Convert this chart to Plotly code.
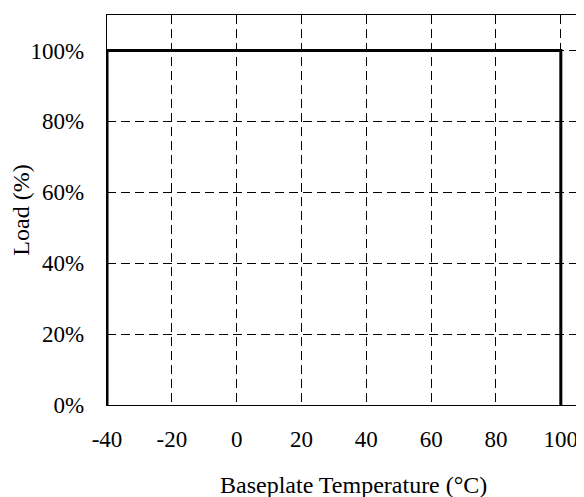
import plotly.graph_objects as go

# Data
temp_c = [-40, -40, 100, 100]
load_pct = [0, 100, 100, 0]
x_tick_vals = [-40, -20, 0, 20, 40, 60, 80, 100]
x_tick_text = ["-40", "-20", "0", "20", "40", "60", "80", "100"]
y_tick_vals = [0, 20, 40, 60, 80, 100]
y_tick_text = ["0%", "20%", "40%", "60%", "80%", "100%"]
x_title = "Baseplate Temperature (°C)"
y_title = "Load (%)"

FONT = "Liberation Serif, Times New Roman, serif"

fig = go.Figure()
fig.add_trace(go.Scatter(
    x=temp_c, y=load_pct, mode="lines",
    line=dict(color="black", width=3),
    cliponaxis=False, showlegend=False, hoverinfo="skip",
))

# page body has an 8px default margin, so the figure is offset by 8px
fig.update_layout(
    width=576, height=489,
    margin=dict(l=98.8, r=0, t=6.7, b=91.7, pad=0),
    paper_bgcolor="white", plot_bgcolor="white",
    font=dict(family=FONT, size=23, color="black"),
    showlegend=False,
)
fig.update_xaxes(
    range=[-40, 107.15],
    tickvals=x_tick_vals, ticktext=x_tick_text,
    showgrid=True, gridcolor="black", gridwidth=1, griddash="9px,5px",
    zeroline=False,
    showline=True, linecolor="black", linewidth=1.3, mirror=True,
    ticks="", ticklabelstandoff=13,
    tickfont=dict(family=FONT, size=23),
)
fig.update_yaxes(
    range=[0, 110],
    tickvals=y_tick_vals, ticktext=y_tick_text,
    showgrid=True, gridcolor="black", gridwidth=1, griddash="9px,5px",
    zeroline=False,
    showline=True, linecolor="black", linewidth=1.3, mirror=False,
    ticks="", ticklabelstandoff=17,
    tickfont=dict(family=FONT, size=23),
    title=dict(text=y_title, font=dict(family=FONT, size=24), standoff=7),
)
fig.add_annotation(
    text=x_title, xref="paper", yref="paper", x=0.516, y=0,
    xanchor="center", yanchor="middle", yshift=-79.7, showarrow=False,
    font=dict(family=FONT, size=24, color="black"),
)

fig.write_html("out.html")
